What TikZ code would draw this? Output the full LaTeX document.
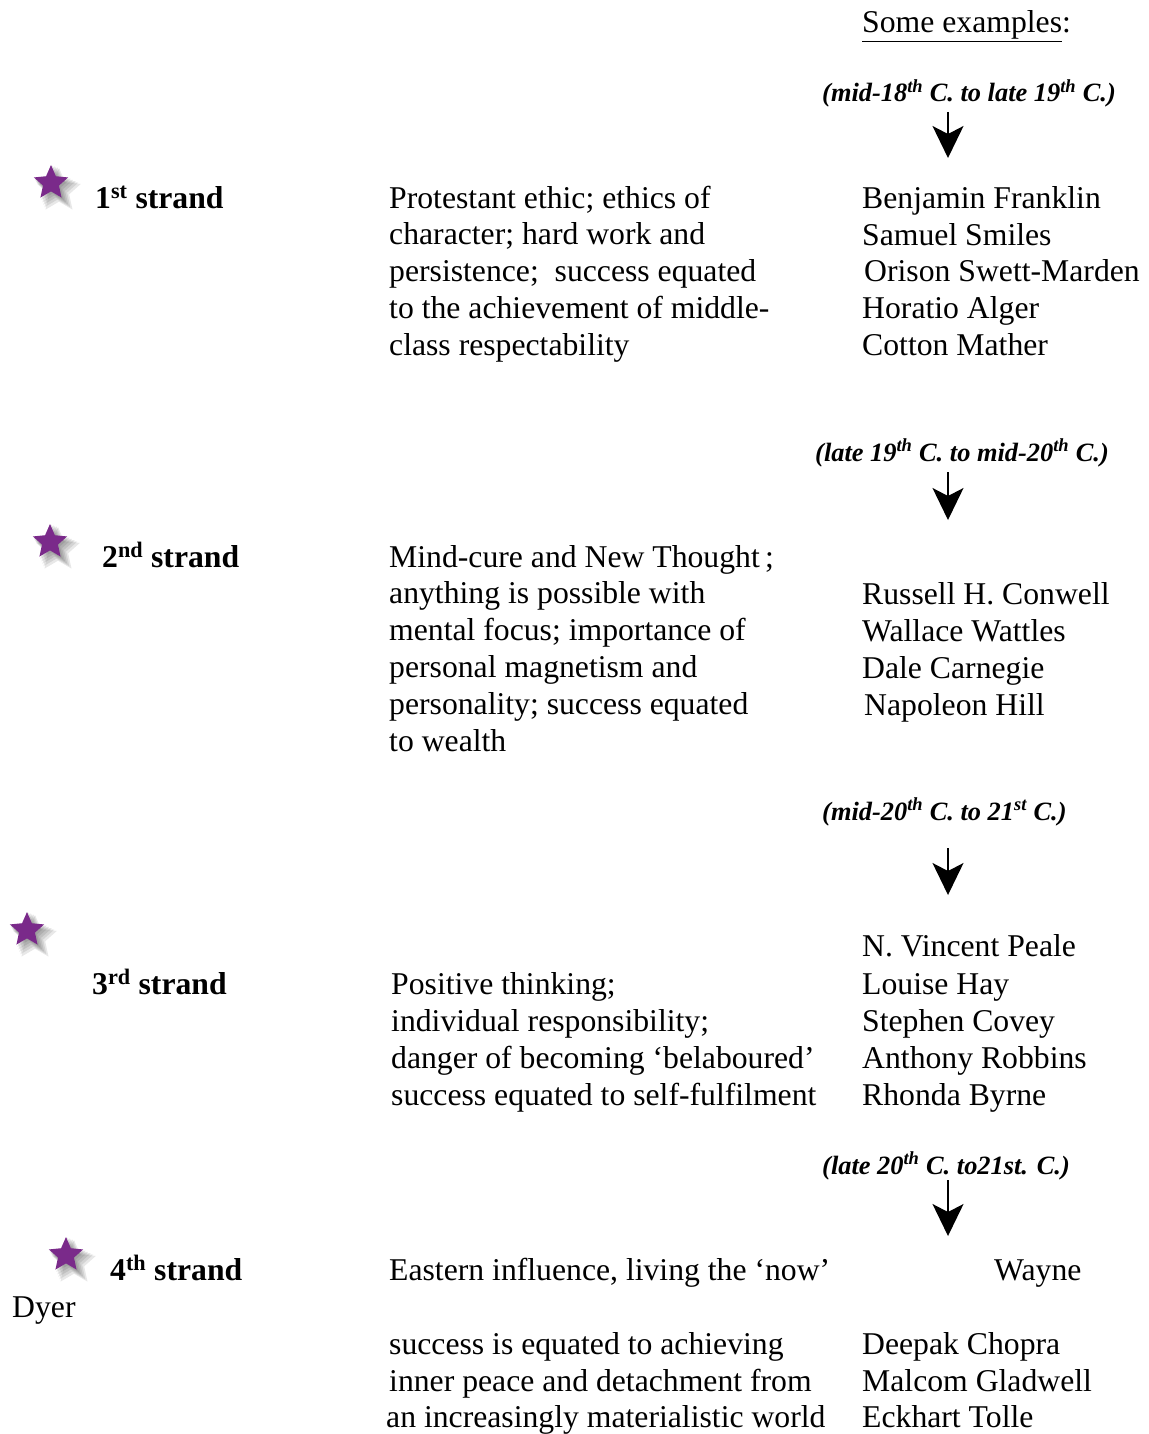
\documentclass[tikz,border=0pt]{standalone}
\usepackage{fontspec}
\setmainfont{Liberation Serif}
\usetikzlibrary{arrows.meta,shapes.geometric}
\definecolor{starpurple}{RGB}{122,42,138}
\tikzset{
  body/.style={anchor=base west, inner sep=0pt, font=\fontsize{31.7}{37}\selectfont},
  strandlabel/.style={anchor=base west, inner sep=0pt, font=\fontsize{31.7}{37}\selectfont\bfseries},
  period/.style={anchor=base west, inner sep=0pt, font=\fontsize{26.4}{30}\selectfont\bfseries\itshape},
  timearrow/.style={line width=1.5pt, -{Stealth[width=31pt,length=32pt,inset=8pt]}},
  starmark/.style={star, star points=5, star point ratio=2.15, minimum size=36pt,
    inner sep=0pt, fill=starpurple, draw=none},
  starpic/.pic={
    \foreach \d in {2,4,6,8,10}
      \node[starmark, fill=black, opacity=0.09, minimum size={(36+\d)*1pt}] at (0.8*\d,0.8*\d) {};
    \node[starmark] (-s) {};
  }
}
\begin{document}
\begin{tikzpicture}[x=1pt,y=-1pt]
\useasboundingbox (0,0) rectangle (1148,1434);

% column heading
\node[body] (head) at (862,33) {\underline{Some examples}:};

% ---------- 1st strand ----------
\node[period] (p1) at (822,102) {(mid-18\textsuperscript{th} C. to late 19\textsuperscript{th} C.)};
\coordinate (a1-top) at (948,112);
\coordinate (a1-tip) at (948,158);
\draw[timearrow] (a1-top) -- (a1-tip);
\pic (st1) at (51,183) {starpic};
\node[strandlabel] (s1) at (95,208) {1\textsuperscript{st} strand};
\foreach \t [count=\i] in {{Protestant ethic; ethics of},{character; hard work and},
  {persistence;\ \ success equated},{to the achievement of middle-},{class respectability}}
  \node[body] (d1-\i) at (389,{208+36.8*(\i-1)}) {\t};
\node[body] (e1-1) at (862,208) {Benjamin Franklin};
\node[body] (e1-2) at (862,245) {Samuel Smiles};
\node[body] (e1-3) at (864,281) {Orison Swett-Marden};
\node[body] (e1-4) at (862,318) {Horatio Alger};
\node[body] (e1-5) at (862,355) {Cotton Mather};

% ---------- 2nd strand ----------
\node[period] (p2) at (815,461) {(late 19\textsuperscript{th} C. to mid-20\textsuperscript{th} C.)};
\coordinate (a2-top) at (948,472);
\coordinate (a2-tip) at (948,520);
\draw[timearrow] (a2-top) -- (a2-tip);
\pic (st2) at (50,542) {starpic};
\node[strandlabel] (s2) at (102,567) {2\textsuperscript{nd} strand};
\foreach \t [count=\i] in {{Mind-cure and New Thought\,;},{anything is possible with},
  {mental focus; importance of},{personal magnetism and},{personality; success equated},{to wealth}}
  \node[body] (d2-\i) at (389,{567+36.8*(\i-1)}) {\t};
\node[body] (e2-1) at (862,604) {Russell H. Conwell};
\node[body] (e2-2) at (862,641) {Wallace Wattles};
\node[body] (e2-3) at (862,678) {Dale Carnegie};
\node[body] (e2-4) at (864,715) {Napoleon Hill};

% ---------- 3rd strand ----------
\node[period] (p3) at (822,820) {(mid-20\textsuperscript{th} C. to 21\textsuperscript{st} C.)};
\coordinate (a3-top) at (948,848);
\coordinate (a3-tip) at (948,895);
\draw[timearrow] (a3-top) -- (a3-tip);
\pic (st3) at (27,930) {starpic};
\node[strandlabel] (s3) at (92,994) {3\textsuperscript{rd} strand};
\foreach \t [count=\i] in {{Positive thinking;},{individual responsibility;},
  {danger of becoming ‘belaboured’},{success equated to self-fulfilment}}
  \node[body] (d3-\i) at (391,{994+37*(\i-1)}) {\t};
\node[body] (e3-1) at (862,956) {N. Vincent Peale};
\node[body] (e3-2) at (862,994) {Louise Hay};
\node[body] (e3-3) at (862,1031) {Stephen Covey};
\node[body] (e3-4) at (862,1068) {Anthony Robbins};
\node[body] (e3-5) at (862,1105) {Rhonda Byrne};

% ---------- 4th strand ----------
\node[period] (p4) at (822,1174) {(late 20\textsuperscript{th} C. to21st. C.)};
\coordinate (a4-top) at (948,1180);
\coordinate (a4-tip) at (948,1236);
\draw[timearrow] (a4-top) -- (a4-tip);
\pic (st4) at (66,1255) {starpic};
\node[strandlabel] (s4) at (110,1280) {4\textsuperscript{th} strand};
\node[body] (d4-1) at (389,1280) {Eastern influence, living the ‘now’};
\node[body] (e4-1a) at (994,1280) {Wayne};
\node[body] (e4-1b) at (12,1317) {Dyer};
\node[body] (d4-2) at (389,1354) {success is equated to achieving};
\node[body] (d4-3) at (389,1391) {inner peace and detachment from};
\node[body] (d4-4) at (386,1427) {an increasingly materialistic world};
\node[body] (e4-2) at (862,1354) {Deepak Chopra};
\node[body] (e4-3) at (862,1391) {Malcom Gladwell};
\node[body] (e4-4) at (862,1427) {Eckhart Tolle};
\end{tikzpicture}
\end{document}
